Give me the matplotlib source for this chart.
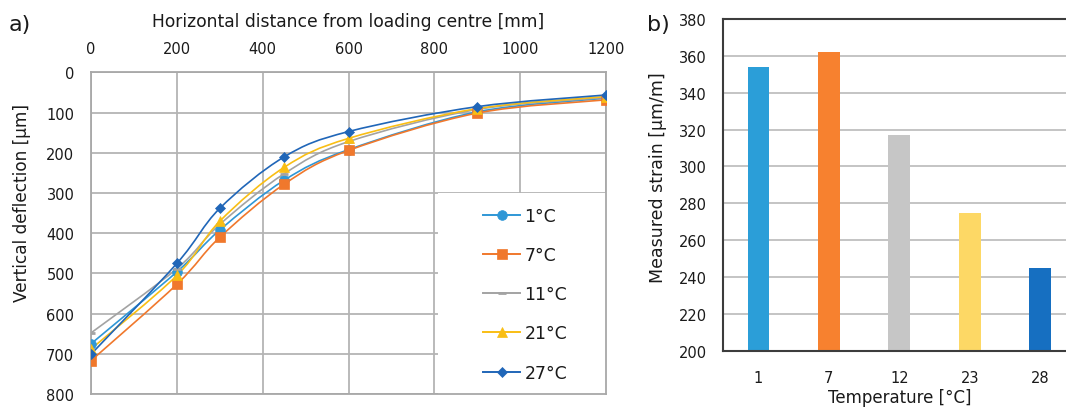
import matplotlib
matplotlib.use("Agg")
import matplotlib.pyplot as plt
from matplotlib.path import Path
from matplotlib.patches import PathPatch, Rectangle
from matplotlib.lines import Line2D
import numpy as np

plt.rcParams["font.family"] = ["DejaVu Sans"]

# a) deflection basin, distance from loading centre [mm] vs deflection [um]
distance_mm = [0, 200, 300, 450, 600, 900, 1200]
deflection_1C = [675, 496, 392, 268, 192, 98, 64]
deflection_7C = [717, 527, 410, 278, 194, 101, 68]
deflection_11C = [648, 488, 378, 252, 172, 92, 62]
deflection_21C = [688, 505, 370, 236, 164, 90, 60]
deflection_27C = [701, 475, 338, 210, 147, 85, 56]
series_labels = ["1°C", "7°C", "11°C", "21°C", "27°C"]

# b) measured strain per test temperature
temperatures = ["1", "7", "12", "23", "28"]
strain_um_m = [354, 362, 317, 275, 245]

LINE_COLORS = ["#2F97D6", "#F0782C", "#A3A3A3", "#F9BE14", "#2066B8"]
BAR_COLORS = ["#2B9ED8", "#F7812F", "#C6C6C6", "#FDD865", "#166FC1"]
MARKERS = [("o", 7), ("s", 7.5), ("_", 6), ("^", 7.5), ("D", 5.5)]
TXT = "#1a1a1a"


def smooth_path(x, y):
    # Bezier segments through every point (spreadsheet-style smoothed line)
    pts = np.column_stack([x, y]).astype(float)
    ext = np.vstack([pts[0], pts, pts[-1]])
    verts = [pts[0]]
    codes = [Path.MOVETO]
    for i in range(len(pts) - 1):
        p0, p1, p2, p3 = ext[i], ext[i + 1], ext[i + 2], ext[i + 3]
        verts += [p1 + (p2 - p0) / 6.0, p2 - (p3 - p1) / 6.0, p2]
        codes += [Path.CURVE4] * 3
    return Path(verts, codes)


fig = plt.figure(figsize=(10.66, 4.14), dpi=100)

# ---- panel a
ax = fig.add_axes([0.0854, 0.0459, 0.4831, 0.7766])
ax.set_axisbelow(True)
ax.set_xlim(0, 1200)
ax.set_ylim(800, 0)
ax.set_xticks(range(0, 1201, 200))
ax.set_yticks(range(0, 801, 100))
ax.xaxis.tick_top()
ax.grid(True, color="#B4B4B4", linewidth=1.3)
for sp in ax.spines.values():
    sp.set_color("#A8A8A8")
    sp.set_linewidth(1.3)
ax.tick_params(axis="x", length=0, pad=12, labelsize=10.5, colors=TXT)
ax.tick_params(axis="y", length=0, pad=12, labelsize=10.5, colors=TXT)

ax.add_patch(Rectangle((0.673, 0.0), 0.327, 0.625, transform=ax.transAxes,
                       facecolor="white", edgecolor="none", zorder=1))

all_series = [deflection_1C, deflection_7C, deflection_11C, deflection_21C, deflection_27C]
handles = []
for vals, col, (mk, ms), lab in zip(all_series, LINE_COLORS, MARKERS, series_labels):
    ax.add_patch(PathPatch(smooth_path(distance_mm, vals), facecolor="none",
                           edgecolor=col, linewidth=1.2, zorder=2))
    mew = 2.0 if mk == "_" else 0.5
    ax.plot(distance_mm, vals, linestyle="none", marker=mk, markersize=ms,
            color=col, markeredgecolor=col, markeredgewidth=mew, zorder=3)
    handles.append(Line2D([], [], color=col, linewidth=1.4, marker=mk,
                          markersize=ms, markeredgewidth=mew, label=lab))

leg = ax.legend(handles=handles, loc="upper left", bbox_to_anchor=(0.762, 0.582),
                frameon=False, fontsize=12.5, handlelength=2.1, handletextpad=0.25,
                labelspacing=1.22, borderpad=0, borderaxespad=0)
for t in leg.get_texts():
    t.set_color(TXT)

fig.text(0.327, 0.947, "Horizontal distance from loading centre [mm]",
         ha="center", va="center", fontsize=12.3, color=TXT)
fig.text(0.021, 0.51, "Vertical deflection [µm]", rotation=90,
         ha="center", va="center", fontsize=12.2, color=TXT)
fig.text(0.008, 0.94, "a)", ha="left", va="center", fontsize=16, color=TXT)

# ---- panel b
bx = fig.add_axes([0.6785, 0.1505, 0.3302, 0.801])
bx.set_axisbelow(True)
bx.bar(range(len(temperatures)), strain_um_m, width=0.31, color=BAR_COLORS, zorder=2)
bx.set_xlim(-0.5, len(temperatures) - 0.5)
bx.set_ylim(200, 380)
bx.set_yticks(range(200, 381, 20))
bx.set_xticks(range(len(temperatures)))
bx.set_xticklabels(temperatures)
bx.yaxis.grid(True, color="#C4C4C4", linewidth=1.4)
for name, sp in bx.spines.items():
    sp.set_color("#3C3C3C")
    sp.set_linewidth(1.5)
bx.spines["right"].set_visible(False)
bx.tick_params(axis="x", length=0, pad=14, labelsize=10.5, colors=TXT)
bx.tick_params(axis="y", length=0, pad=12, labelsize=10.5, colors=TXT)

fig.text(0.844, 0.039, "Temperature [°C]", ha="center", va="center",
         fontsize=12, color=TXT)
fig.text(0.617, 0.571, "Measured strain [µm/m]", rotation=90,
         ha="center", va="center", fontsize=12.5, color=TXT)
fig.text(0.607, 0.94, "b)", ha="left", va="center", fontsize=16, color=TXT)

fig.savefig("out.png", dpi=100)
